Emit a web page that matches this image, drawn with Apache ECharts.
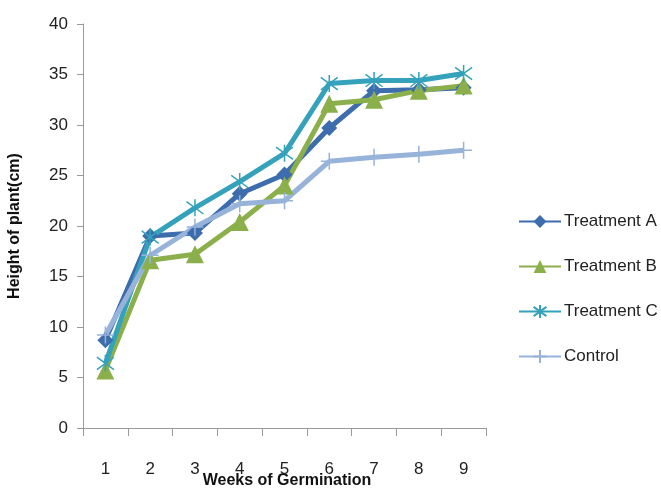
<!DOCTYPE html>
<html><head><meta charset="utf-8">
<script src="https://cdn.jsdelivr.net/npm/echarts@6/dist/echarts.min.js"></script>
<style>html,body{margin:0;padding:0;background:#fff}#c{width:661px;height:489px}</style>
</head><body><div id="c"></div>
<script>
const weeks = ['1','2','3','4','5','6','7','8','9'];
const treatmentA = [8.7, 19.0, 19.3, 23.2, 25.1, 29.7, 33.4, 33.5, 33.7];
const treatmentB = [5.7, 16.6, 17.2, 20.4, 24.0, 32.1, 32.5, 33.4, 33.9];
const treatmentC = [6.4, 18.9, 21.8, 24.4, 27.2, 34.1, 34.4, 34.4, 35.1];
const control    = [9.2, 17.1, 19.9, 22.2, 22.5, 26.4, 26.8, 27.1, 27.5];
const yTicks = [0,5,10,15,20,25,30,35,40];
const xTitle = 'Weeks of Germination';

const chart = echarts.init(document.getElementById('c'));
const star = 'path://M-8,-8L8,8M-8,8L8,-8M0,-11L0,11';
const plus = 'path://M0,-10L0,10M-10,0L10,0';
function ser(name, data, color, symbol, size, hollow){
  return {
    name, type:'line', data, symbol, symbolSize:size,
    lineStyle:{color, width:5},
    itemStyle: hollow ? {color:'rgba(0,0,0,0)', borderColor:color, borderWidth:1.5} : {color},
    emphasis:{disabled:true}, animation:false
  };
}
chart.setOption({
  animation:false,
  grid:{left:83, right:175, top:24, bottom:61, containLabel:false, outerBoundsMode:'none'},
  legend:{
    orient:'vertical', left:513, top:208, itemGap:28, itemWidth:42, itemHeight:16,
    textStyle:{fontFamily:'Liberation Sans', fontSize:17, color:'#222', padding:[0,0,0,-2]},
    data:['Treatment A','Treatment B','Treatment C','Control']
  },
  graphic:[{
    type:'text', x:287, y:481,
    style:{text:xTitle, fontFamily:'Liberation Sans', fontWeight:'bold', fontSize:16, fill:'#111',
      align:'center', verticalAlign:'middle'}
  }],
  xAxis:{
    type:'category', data:weeks, boundaryGap:true,
    axisLine:{lineStyle:{color:'#9a9a9a', width:1}},
    axisTick:{show:true, alignWithLabel:false, length:8, lineStyle:{color:'#9a9a9a'}},
    axisLabel:{fontFamily:'Liberation Sans', fontSize:17, color:'#222', margin:33}
  },
  yAxis:{
    type:'value', min:0, max:40, interval:5,
    name:'Height of plant(cm)', nameLocation:'middle', nameGap:60, nameRotate:90,
    nameTextStyle:{fontFamily:'Liberation Sans', fontWeight:'bold', fontSize:16, color:'#111'},
    axisLine:{show:true, lineStyle:{color:'#9a9a9a', width:1}},
    axisTick:{show:true, length:6, lineStyle:{color:'#9a9a9a'}},
    splitLine:{show:false},
    axisLabel:{fontFamily:'Liberation Sans', fontSize:17, color:'#222', margin:15,
      formatter:v=>yTicks.includes(v)?String(v):''}
  },
  series:[
    ser('Treatment A', treatmentA, '#3D6DAC', 'diamond', 16, false),
    ser('Treatment B', treatmentB, '#8BAF4B', 'triangle', 18, false),
    ser('Treatment C', treatmentC, '#35A2BC', star, 17, true),
    ser('Control', control, '#97B3DA', plus, 17, true)
  ]
});
</script></body></html>
